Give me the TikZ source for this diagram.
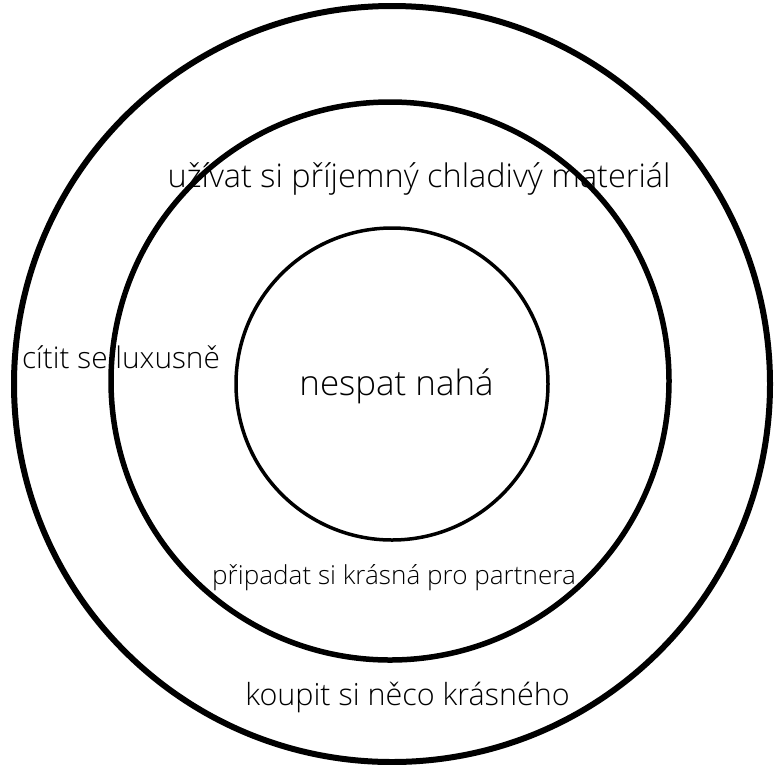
\documentclass[tikz,border=0pt]{standalone}
\usepackage{fontspec}
\setmainfont{Open Sans}[UprightFont={* Light}]
\usepackage{tikz}
\usetikzlibrary{positioning}

\begin{document}
\begin{tikzpicture}[x=1pt, y=-1pt]
    \tikzset{
        ring/.style={draw=black, line width=#1},
        label/.style={inner sep=0pt, anchor=base, font=\fontsize{#1}{#1}\selectfont}
    }
    \useasboundingbox (0,0) rectangle (781,764);

    % three rings
    \coordinate (C) at (392,384);
    \draw [ring=6pt] (C) circle (378);
    \draw [ring=5.5pt] (390,381) circle (279);
    \draw [ring=3.5pt] (392,384) circle (156);

    % texts
    \node (Enjoy) [label=32.5] at (419,187) {užívat si příjemný chladivý materiál};
    \node (Luxury) [label=29.8] at (121,368) {cítit se luxusně};
    \node (Core) [label=34.9] at (396.5,395) {nespat nahá};
    \node (Partner) [label=26.1] at (394,584) {připadat si krásná pro partnera};
    \node (Buy) [label=30.5] at (407.5,705) {koupit si něco krásného};

\end{tikzpicture}
\end{document}
